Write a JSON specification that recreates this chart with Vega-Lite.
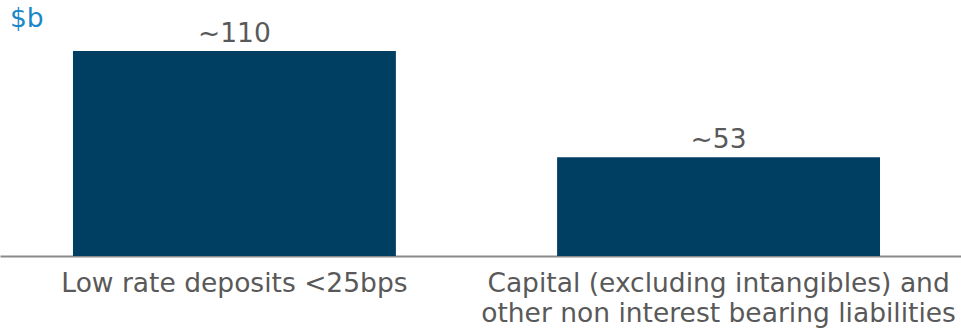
{
  "$schema": "https://vega.github.io/schema/vega-lite/v6.json",
  "autosize": "none",
  "width": 961,
  "height": 256,
  "padding": {"left": 0, "top": 0, "right": 0, "bottom": 76},
  "background": "white",
  "title": {"text": "$b", "anchor": "start", "frame": "group", "offset": -32, "dx": 10, "color": "#1a88c8", "font": "DejaVu Sans", "fontSize": 26.5, "fontWeight": "normal"},
  "data": {"values": [
    {"category": "Low rate deposits <25bps", "value": 110, "label": "~110"},
    {"category": "Capital (excluding intangibles) and|other non interest bearing liabilities", "value": 53, "label": "~53"}
  ],
  "format": {"type": "json"}},
  "encoding": {
    "x": {"field": "category", "type": "nominal", "sort": null,
      "scale": {"paddingInner": 0.333, "paddingOuter": 0.159, "align": 0.474},
      "axis": {"title": null, "labelAngle": 0, "ticks": false, "domainColor": "#8a8a8a", "domainWidth": 2, "labelFont": "DejaVu Sans", "labelFontSize": 26.5, "labelColor": "#595959", "labelPadding": 14, "labelExpr": "split(datum.label, '|')", "labelLineHeight": 30, "labelLimit": 0}},
    "y": {"field": "value", "type": "quantitative", "scale": {"domain": [0, 137.4]}, "axis": null}
  },
  "layer": [
    {"mark": {"type": "bar", "color": "#003f62"}},
    {"mark": {"type": "text", "baseline": "alphabetic", "dy": -9, "font": "DejaVu Sans", "fontSize": 26.5, "color": "#595959"},
     "encoding": {"text": {"field": "label"}}}
  ],
  "config": {"view": {"stroke": null}}
}
